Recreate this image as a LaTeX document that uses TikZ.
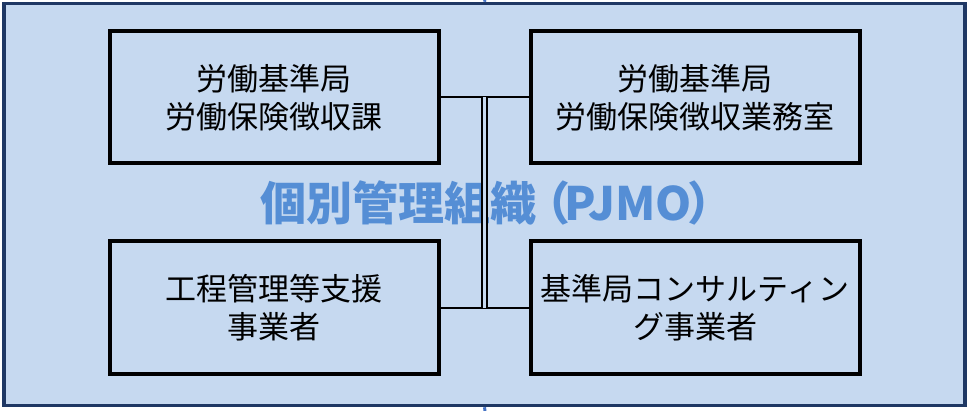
\documentclass[tikz,border=0pt]{standalone}
\usepackage{fontspec}
\usetikzlibrary{calc}
\newfontfamily\jp{Noto Sans CJK JP}
\definecolor{bgfill}{RGB}{198,217,240}
\definecolor{navy}{RGB}{31,56,100}
\definecolor{titleblue}{RGB}{85,142,213}
\definecolor{stubblue}{RGB}{68,114,196}
\begin{document}
\begin{tikzpicture}[x=1pt,y=-1pt,
  orgbox/.style={draw=black, line width=4pt, fill=bgfill, minimum width=329pt, minimum height=132pt,
    align=center, inner sep=0pt, font=\jp\fontsize{31}{38.5}\selectfont},
  link/.style={draw=black, line width=2pt},
  title/.style={text=titleblue, font=\jp\bfseries\fontsize{46}{50}\selectfont, inner sep=0pt}]
\useasboundingbox (0,0) rectangle (968,411);
% outer frame
\node[draw=navy, line width=3.5pt, fill=bgfill, minimum width=961pt, minimum height=402pt, inner sep=0pt] (frame) at (484.5,204.5) {};
\coordinate (topstub) at (485,0);
\coordinate (botstub) at (485,411);
\draw[stubblue, line width=3pt] (topstub) -- (frame.north);
\draw[stubblue, line width=3pt] (frame.south) -- (botstub);
% title
\node[title, anchor=west] (ttl) at (260,203) {個別管理組織\kern-12pt（\kern-6ptPJMO\kern-4pt）};
% boxes
\node[orgbox] (tl) at (274,97.5) {労働基準局\\労働保険徴収課};
\node[orgbox] (tr) at (695,97.5) {労働基準局\\労働保険徴収業務室};
\node[orgbox] (bl) at (274,307.5) {工程管理等支援\\事業者};
\node[orgbox] (br) at (695,307.5) {基準局コンサルティン\\グ事業者};
% connectors
\draw[link] (tl.east) -- (tr.west);
\draw[link] (bl.east) -- (br.west);
\coordinate (vt) at ($(tl.east)!0.5!(tr.west)$);
\coordinate (vb) at ($(bl.east)!0.5!(br.west)$);
\draw[double=bgfill, draw=black, line width=1.5pt, double distance=3.5pt] (vt) -- (vb);
\end{tikzpicture}
\end{document}
